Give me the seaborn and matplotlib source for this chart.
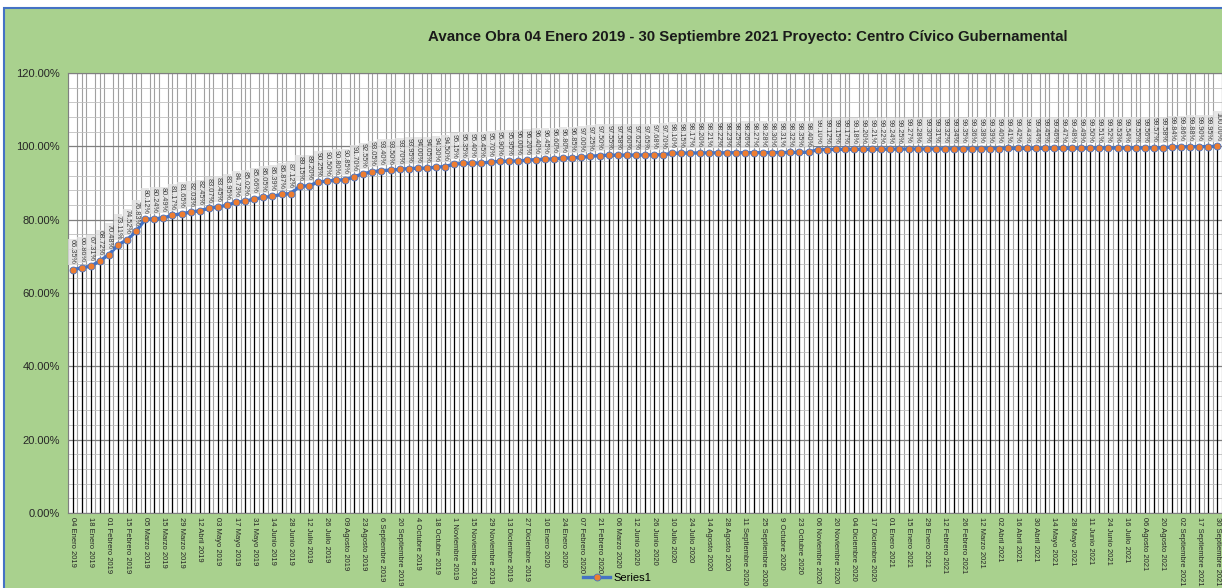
import numpy as np
import pandas as pd
import matplotlib
matplotlib.use('Agg')
import matplotlib.pyplot as plt
import matplotlib.patches as mpatches
from matplotlib.ticker import FuncFormatter, MultipleLocator
import seaborn as sns

# avance semanal (%), 127 cortes
avance = [66.35, 66.86, 67.31, 68.72, 70.48, 73.11, 74.52, 76.83, 80.12, 80.24,
          80.49, 81.17, 81.65, 82.03, 82.45, 83.07, 83.45, 83.95, 84.73, 85.02,
          85.66, 86.05, 86.39, 86.87, 87.12, 89.15, 89.20, 90.25, 90.50, 90.80,
          90.85, 91.70, 92.55, 93.05, 93.40, 93.50, 93.70, 93.95, 94.00, 94.05,
          94.30, 94.50, 95.15, 95.35, 95.40, 95.45, 95.70, 95.90, 95.95, 96.00,
          96.20, 96.40, 96.45, 96.60, 96.80, 96.85, 97.00, 97.25, 97.50, 97.55,
          97.58, 97.60, 97.62, 97.65, 97.68, 97.70, 98.10, 98.15, 98.17, 98.20,
          98.21, 98.22, 98.23, 98.25, 98.26, 98.27, 98.28, 98.30, 98.31, 98.32,
          98.35, 98.40, 99.10, 99.12, 99.15, 99.17, 99.18, 99.20, 99.21, 99.22,
          99.24, 99.25, 99.27, 99.28, 99.30, 99.31, 99.32, 99.34, 99.35, 99.36,
          99.38, 99.39, 99.40, 99.41, 99.42, 99.43, 99.44, 99.45, 99.46, 99.47,
          99.48, 99.49, 99.50, 99.51, 99.52, 99.53, 99.54, 99.55, 99.56, 99.57,
          99.58, 99.84, 99.86, 99.88, 99.90, 99.95, 100.00]

# etiquetas del eje (una cada dos cortes)
fechas = ['04 Enero 2019', '18 Enero 2019', '01 Febrero 2019', '15 Febrero 2019',
          '05 Marzo 2019', '15 Marzo 2019', '29 Marzo 2019', '12 Abril 2019',
          '03 Mayo 2019', '17 Mayo 2019', '31 Mayo 2019', '14 Junio 2019',
          '28 Junio 2019', '12 Julio 2019', '26 Julio 2019', '09 Agosto 2019',
          '23 Agosto 2019', '6 Septiembre 2019', '20 Septiembre 2019', '4 Octubre 2019',
          '18 Octubre 2019', '1 Noviembre 2019', '15 Noviembre 2019', '29 Noviembre 2019',
          '13 Diciembre 2019', '27 Diciembre 2019', '10 Enero 2020', '24 Enero 2020',
          '07 Febrero 2020', '21 Febrero 2020', '06 Marzo 2020', '12 Junio 2020',
          '26 Junio 2020', '10 Julio 2020', '24 Julio 2020', '14 Agosto 2020',
          '28 Agosto 2020', '11 Septiembre 2020', '25 Septiembre 2020', '9 Octubre 2020',
          '23 Octubre 2020', '06 Noviembre 2020', '20 Noviembre 2020', '04 Diciembre 2020',
          '17 Diciembre 2020', '01 Enero 2021', '15 Enero 2021', '29 Enero 2021',
          '12 Febrero 2021', '26 Febrero 2021', '12 Marzo 2021', '02 Abril 2021',
          '16 Abril 2021', '30 Abril 2021', '14 Mayo 2021', '28 Mayo 2021',
          '11 Junio 2021', '24 Junio 2021', '16 Julio 2021', '06 Agosto 2021',
          '20 Agosto 2021', '02 Septiembre 2021', '17 Septiembre 2021', '30 Septiembre 2021']

df = pd.DataFrame({'corte': np.arange(len(avance)), 'avance': np.array(avance) / 100})

plt.rcParams['font.family'] = ['Liberation Sans', 'DejaVu Sans']

fig = plt.figure(figsize=(12.22, 5.88), dpi=100)
fig.patch.set_facecolor('white')
#fondo verde del grafico
fig.patches.append(mpatches.Rectangle((0.003, -0.01), 1.0, 1 - 8/588 + 0.01, transform=fig.transFigure,
                                      facecolor='#A9D18E', edgecolor='#4472C4', lw=1.5, zorder=-1))

ax = fig.add_axes([68/1222, 1 - 513/588, 1154/1222, 440/588])
ax.set_facecolor('white')

#grilla
ax.yaxis.set_major_locator(MultipleLocator(0.2))
ax.yaxis.set_minor_locator(MultipleLocator(0.04))
ax.xaxis.set_minor_locator(MultipleLocator(0.5))
ax.grid(which='major', axis='y', color='#7f7f7f', lw=0.9)
ax.grid(which='minor', axis='y', color='#bfbfbf', lw=0.6)
ax.grid(which='minor', axis='x', color='#a0a0a0', lw=0.8)
ax.set_axisbelow(True)

#lineas de caida
ax.vlines(df['corte'], 0, df['avance'], color='black', lw=0.9, zorder=2)

sns.lineplot(data=df, x='corte', y='avance', ax=ax, color='#4472C4', lw=2.4,
             marker='o', markersize=5, markerfacecolor='#ED7D31', markeredgecolor='#4472C4',
             markeredgewidth=0.6, label='Series1', zorder=3)

for i, v in enumerate(avance):
    ax.annotate(f'{v:.2f}%', (i, v / 100), xytext=(0, 4), textcoords='offset points',
                rotation=270, ha='center', va='bottom', fontsize=5.3, color='#404040',
                bbox=dict(boxstyle='square,pad=0.1', fc='#e0e0e0', ec='none', alpha=0.8), zorder=4)

ax.set_xlim(-0.5, len(avance) - 0.5)
ax.set_ylim(0, 1.2)
ax.set_xticks(np.arange(0, len(avance), 2))
ax.set_xticklabels(fechas, rotation=270, fontsize=5.5, color='#262626')
ax.yaxis.set_major_formatter(FuncFormatter(lambda y, p: f'{y:.2%}'))
ax.tick_params(axis='y', which='both', length=0, labelsize=8, labelcolor='#262626', pad=6)
ax.tick_params(axis='x', which='both', length=0, pad=3)
ax.set_xlabel('')
ax.set_ylabel('')
for s in ax.spines.values():
    s.set_color('#7f7f7f')
    s.set_linewidth(0.8)

ax.legend_.remove()
h, l = ax.get_legend_handles_labels()
fig.legend(h, l, loc='center', bbox_to_anchor=(0.505, 10/588), frameon=False, fontsize=8,
           handlelength=2.5, borderpad=0, handletextpad=0.3)

fig.text(748/1222, 1 - 37/588, 'Avance Obra 04 Enero 2019 - 30 Septiembre 2021 Proyecto: Centro Cívico Gubernamental',
         ha='center', va='center', fontsize=10.8, fontweight='bold', color='#1a1a1a')

plt.savefig('out.png', dpi=100, facecolor=fig.get_facecolor())
